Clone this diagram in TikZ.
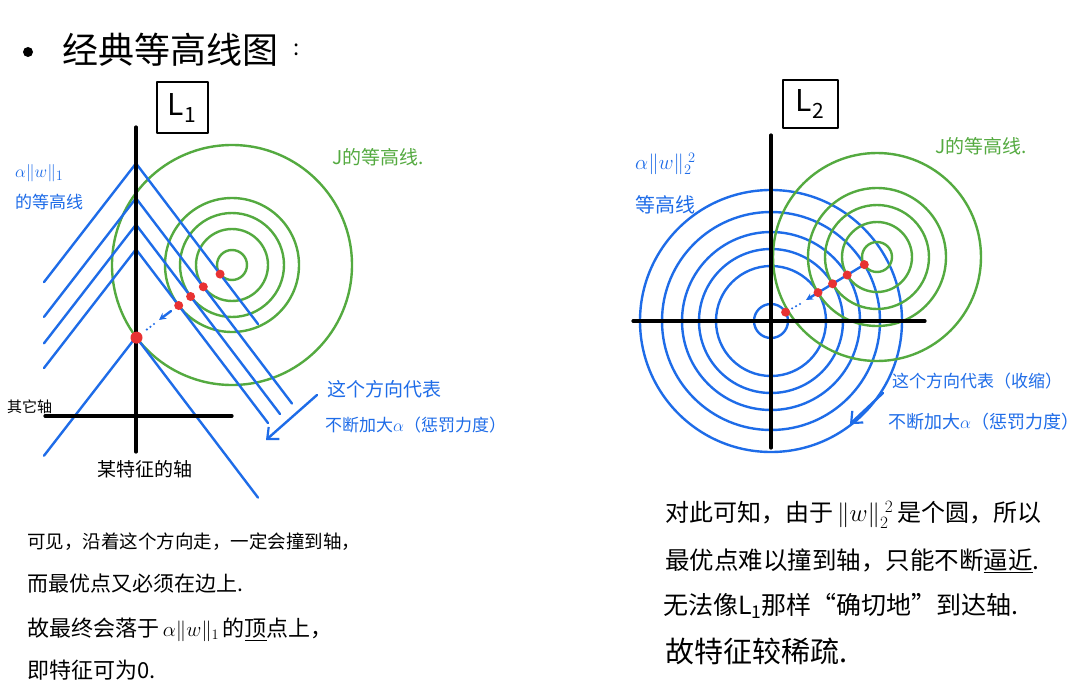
\documentclass[tikz,border=0pt]{standalone}
\usepackage{fontspec}
\setmainfont{Noto Sans CJK SC}
\usetikzlibrary{arrows.meta}
\definecolor{penblue}{RGB}{30,108,232}
\definecolor{pengreen}{RGB}{84,170,64}
\definecolor{penred}{RGB}{232,50,50}
\begin{document}
\begin{tikzpicture}[x=1pt,y=-1pt,line cap=round,line join=round,
	axis/.style={line width=3.2pt,black},
	bline/.style={line width=2.4pt,penblue},
	gline/.style={line width=2.4pt,pengreen},
	dots/.style={line width=2.4pt,penblue,dash pattern=on 0pt off 4.5pt},
	hand/.style={inner sep=0pt,anchor=west,font=\fontsize{#1}{#1}\selectfont},
	big/.style={-{Straight Barb[length=9pt,width=16pt,line width=2.2pt]}}]
	\useasboundingbox[fill=white] (0,0) rectangle (1080,693);
	% title
	\fill (28,52) circle (5);
	\node[hand=36] (title) at (62,50) {经典等高线图};
	\node[hand=22] (colon) at (293,50) {:};
	% ---------- L1 ----------
	\draw[line width=2.6pt] (157,82) rectangle (208,133);
	\node[inner sep=0pt,font=\fontsize{30}{30}\selectfont] (lone) at (182,108) {L\textsubscript{1}};
	\foreach \r in {15,36,52,67,120}
		\draw[gline] (232,265) circle (\r);
	\foreach \a/\ex/\ey in {163.4/258/324,198.2/292/403.5,224.6/280/414,249.3/268/423,337/258/497.6}
		\draw[bline] (44,\a+118.7) -- (136,\a) -- (\ex,\ey);
	\draw[axis] (136,127) -- (136,452);
	\draw[axis] (45,416) -- (232,416);
	\foreach \x/\y in {220.1/274.1,203.3/286.8,190.6/296.5,178.7/305.5}
		\fill[penred] (\x,\y) circle (4.5);
	\fill[penred] (136.5,337.6) circle (6);
	\draw[bline,-{Stealth[length=7pt,width=7pt]}] (171,311) -- (159,320);
	\draw[dots] (154,324) -- (145,331);
	\coordinate (arrAs) at (317,395);
	\coordinate (arrAe) at (266,440);
	\draw[bline,big] (arrAs) -- (arrAe);
	\node[hand=19,text=pengreen] (jone) at (332,157) {J的等高线.};
	\node[hand=19,text=penblue] (nA) at (15,173) {$\alpha\|w\|_1$};
	\node[hand=17,text=penblue] (nB) at (15,202) {的等高线};
	\node[hand=19,text=penblue] (dirA) at (327,389) {这个方向代表};
	\node[hand=17,text=penblue] (dirB) at (325,425) {不断加大$\alpha$（惩罚力度）};
	\node[hand=15] (other) at (7,407) {其它轴};
	\node[hand=19] (feat) at (97,469) {某特征的轴};
	% ---------- L2 ----------
	\draw[line width=2.6pt] (783,80) rectangle (838,128);
	\node[inner sep=0pt,font=\fontsize{30}{30}\selectfont] (ltwo) at (810,104) {L\textsubscript{2}};
	\foreach \r in {17,55,72,89,109,131}
		\draw[bline] (771,321) circle (\r);
	\foreach \r in {15,35,52,69,104}
		\draw[gline] (877,257) circle (\r);
	\draw[axis] (771,135) -- (771,448);
	\draw[axis] (633,321) -- (925,321);
	\draw[bline,-{Stealth[length=7pt,width=7pt]}] (864.3,264.6) -- (806,300);
	\draw[dots] (800,304) -- (791,309);
	\foreach \x/\y in {785.6/312.2,818/292.6,832.6/283.8,847.2/275,864.3/264.6}
		\fill[penred] (\x,\y) circle (4.5);
	\coordinate (arrBs) at (883,393);
	\coordinate (arrBe) at (850,424);
	\draw[bline,big] (arrBs) -- (arrBe);
	\node[hand=19,text=pengreen] (jtwo) at (935,146) {J的等高线.};
	\node[hand=20,text=penblue] (nC) at (635,164) {$\alpha\|w\|_2^{\;2}$};
	\node[hand=20,text=penblue] (nD) at (635,205) {等高线};
	\node[hand=17,text=penblue] (dirC) at (892,381) {这个方向代表（收缩）};
	\node[hand=18,text=penblue] (dirD) at (888,422) {不断加大$\alpha$（惩罚力度）};
	% ---------- notes ----------
	\node[hand=18.5] (la) at (27,542) {可见，沿着这个方向走，一定会撞到轴，};
	\node[hand=21] (lb) at (27,584) {而最优点又必须在边上.};
	\node[hand=22] (lc) at (27,630) {故最终会落于\,$\alpha\|w\|_1$\,的\underline{顶}点上，};
	\node[hand=22] (ld) at (27,670) {即特征可为0.};
	\node[hand=24] (ra) at (665,515) {对此可知，由于\,$\|w\|_2^{\;2}$\,是个圆，所以};
	\node[hand=24.5] (rb) at (665,561) {最优点难以撞到轴，只能不断\underline{逼近}.};
	\node[hand=25] (rc) at (663,606) {无法像L\textsubscript{1}那样“确切地”到达轴.};
	\node[hand=29] (rd) at (665,651) {故特征较稀疏.};
\end{tikzpicture}
\end{document}
